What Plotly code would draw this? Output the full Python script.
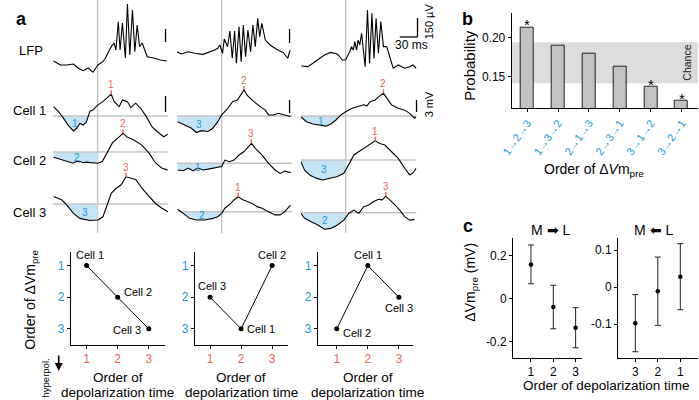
import numpy as np
import plotly.graph_objects as go

W, H = 699, 400
FONT = "Arial, Liberation Sans, Helvetica, sans-serif"
BLUE = "#1e9bd7"
RED = "#f26659"
FILLC = "#c4e3f5"
GREY = "#c4c4c4"

# ---------------- data: panel a (time in ms relative to the grey line) ----------------
c1_lfp_t = [-74.5, -63, -52, -41, -33, -24.5, -16, -8, 0.5, 5, 9, 13, 17, 23, 28, 31, 35, 38, 42, 47, 50.5,
            54.5, 59, 63, 67, 71, 75.5, 84, 95, 106, 117]
c1_lfp_uv = [11, -32, -32, -21, -64, -93, -64, -110, -32, -10, 3, 40, 96, 164, 203, 128, 431, 128, 417, 43, 620,
             75, 556, 110, 396, 164, 203, 57, 43, 21, 11]
c2_lfp_t = [-76, -68, -57, -45.5, -31.5, -20.5, -12, -6.5, -3, 1.5, 4.5, 10, 14, 18, 22, 25, 29.5, 33, 36.7,
            40.5, 44.5, 49, 53, 57, 61, 64.5, 68, 74, 82, 93, 104.5, 112, 116]
c2_lfp_uv = [3, -21, 3, -14, -25, -3, 21, 40, 75, -14, 139, 57, 225, -67, 225, -121, 271, -104, 289,
             -50, 235, 3, 289, 57, 360, 164, 307, 128, 75, 29, -7, -67, 21]
c3_lfp_t = [-75, -64, -55.5, -47, -36, -25, -14, -5.5, 0, 4, 7, 10, 13, 15.5, 18.5, 21, 24, 27, 29.5, 33,
            37, 40.5, 44.5, 48, 51.5, 55.5, 59.5, 64, 69.5, 75, 80.5, 89, 100, 108.5, 114, 119.5]
c3_lfp_uv = [-43, -50, -14, 29, 75, 103, 86, 21, 21, 75, 110, 164, 128, 218, 128, 235, 182, 307, 128, -50,
             556, -14, 520, 39, 467, 93, 432, 164, 164, 57, -67, -32, -67, -50, -32, -67]

c1_cell1_t = [-74.5, -66, -58, -50, -41, -35.5, -30, -24.5, -19, -13, -8, 0.5, 9, 17, 23, 28, 36.5, 42, 50.5,
              56, 64.5, 73, 84, 92, 100.5, 112, 119]
c1_cell1_mv = [1.75, 0.8, -0.4, -1.7, -2.8, -2.3, -1.4, -1.7, -1.1, 0.9, 1.1, 2.1, 2.7, 3.4, 4.1, 2.7, 1.75,
               3.0, 2.7, 1.55, 2.4, 1.45, -0.4, -2.0, -2.9, -3.9, -3.4]
c1_cell2_t = [-74.5, -66, -58, -50, -45, -41.5, -36, -30, -24, -18, -13, -5, 0.5, 8, 16.5, 25, 37, 43, 50,
              61.5, 75, 87, 98.5, 108.5, 118.5]
c1_cell2_mv = [-1.0, -1.3, -1.6, -1.9, -2.0, -2.1, -1.8, -1.8, -2.0, -1.9, -2.0, -2.1, -2.1, -1.8, 0.0, 1.7,
               2.9, 3.5, 2.8, 2.25, 1.3, -0.2, -2.1, -3.0, -3.4]
c1_cell3_t = [-74.5, -60.5, -52, -41, -30, -13, 0.5, 9, 17, 23, 31, 40, 48, 56, 64.5, 75.5, 87, 98, 109, 119]
c1_cell3_mv = [1.4, 0.75, -0.2, -1.75, -2.7, -3.1, -3.0, -2.4, 0.1, 2.0, 2.9, 3.6, 5.1, 4.8, 4.6, 2.9, 1.4,
               0.1, -0.8, -1.45]

c2_cell1_t = [-74.5, -62, -51, -43, -34, -23, -15, -6.5, 0, 10, 18.5, 26.7, 32, 38, 43, 54.5, 65.5, 74, 79.5,
              88, 96, 104.5, 116.7]
c2_cell1_mv = [-1.07, -1.7, -2.3, -3.1, -2.75, -2.9, -2.3, -1.07, 0.2, 1.4, 2.7, 3.0, 3.9, 4.9, 3.9, 2.7, 1.75,
               1.1, 0.2, 0.2, 0.5, 0.2, -0.1]
c2_cell2_t = [-74.5, -65, -56.5, -48.5, -40, -31.5, -23, -12, 0, 5.5, 13, 21, 29.5, 38, 43.5, 50.5, 57, 68.5,
              79.5, 90.5, 99, 107, 116.7]
c2_cell2_mv = [-1.25, -1.4, -0.9, -1.4, -0.9, -1.25, -1.1, -0.9, -0.6, 0.6, 0.3, 0.6, 1.55, 2.2, 2.8, 3.75, 2.8,
               1.55, 0.0, -1.25, -1.9, -1.45, -1.75]
c2_cell3_t = [-74.5, -65, -54, -43, -29, -15, -6.5, 0, 5.5, 15.5, 21, 28, 35, 43.5, 51.5, 60, 68.5, 79.5, 90.5,
              99, 107, 116.7]
c2_cell3_mv = [0.45, -0.3, -1.25, -1.55, -1.55, -1.25, -0.95, -0.3, 0.65, 1.55, 2.2, 2.8, 2.3, 1.9, 1.55, 0.95,
               0.65, 0.0, -0.6, -0.6, 0.0, 1.25]

c3_cell1_t = [-76, -66.5, -55.5, -44.5, -33, -25, -16.5, -8, 0, 11, 22, 30.5, 36, 41.5, 50, 55.5, 64, 69.5, 78,
              89, 100, 108.5, 116.7, 119.5]
c3_cell1_mv = [-0.1, -1.07, -1.5, -1.7, -1.9, -1.5, -0.75, 0.2, 0.8, 1.45, 1.9, 2.1, 1.9, 2.7, 3.0, 3.6, 4.25,
               3.3, 2.06, 1.45, 1.1, 0.5, -0.4, -0.1]
c3_cell2_t = [-76, -69.5, -61, -50, -39, -28, -14, -3, 3, 8.3, 14, 22, 33, 44.5, 50, 58, 66.5, 77.8, 89, 100,
              108.5, 114, 119.5]
c3_cell2_mv = [-0.3, -1.9, -2.8, -3.4, -3.75, -3.4, -3.1, -2.5, -1.25, 0.0, 0.95, 1.55, 2.3, 3.1, 3.6, 3.1, 2.8,
               1.55, 0.3, -1.55, -2.8, -2.4, -1.55]
c3_cell3_t = [-76, -69.5, -58.5, -47, -36, -25, -14, -3, 5.5, 14, 22, 30.5, 39, 47, 55.5, 62, 68, 75, 83.5,
              91.5, 100, 108.5, 116.7]
c3_cell3_mv = [-0.1, -1.05, -1.7, -2.3, -3.1, -2.95, -2.3, -1.4, -0.1, 0.5, -0.1, 1.1, 1.45, 2.06, 2.5, 2.4,
               3.1, 2.4, 1.45, 0.5, -0.75, -1.4, -1.25]

# order of depolarization (red) and of pre-event hyperpolarization (blue) for cells 1-3
depol_order = [[1, 2, 3], [2, 3, 1], [2, 1, 3]]
hyper_order = [[1, 2, 3], [3, 1, 2], [1, 3, 2]]

# ---------------- data: panel b ----------------
b_orders = ["1→2→3", "1→3→2", "2→1→3", "2→3→1", "3→1→2", "3→2→1"]
b_prob = [0.2127, 0.1898, 0.1792, 0.1627, 0.1369, 0.1192]
b_signif = [True, False, False, False, True, True]
b_chance = [0.1416, 0.1937]

# ---------------- data: panel c ----------------
c1_x = [1, 2, 3]
c1_mean = [0.160, -0.038, -0.134]
c1_err = [0.090, 0.101, 0.093]
c2_x = [3, 2, 1]
c2_mean = [-0.097, -0.011, 0.028]
c2_err = [0.077, 0.092, 0.089]

# ---------------- helpers ----------------
def xd(a, b):
    return [a / W, b / W]

def yd(top, bot):
    return [1 - bot / H, 1 - top / H]

def PX(x):
    return x / W

def PY(y):
    return 1 - y / H

def names(n):
    return ("xaxis" if n == 1 else f"xaxis{n}", "x" if n == 1 else f"x{n}",
            "yaxis" if n == 1 else f"yaxis{n}", "y" if n == 1 else f"y{n}")

fig = go.Figure()
layout = {}
shapes = []
ann = []

def txt(x, y, s, size=13, color="black", angle=0, xanchor="center", yanchor="middle", xref="paper",
        yref="paper", **kw):
    d = dict(x=x, y=y, text=s, showarrow=False, xref=xref, yref=yref, xanchor=xanchor, yanchor=yanchor,
             textangle=angle, font=dict(family=FONT, size=size, color=color))
    d.update(kw)
    ann.append(d)

hidden = dict(visible=False, showgrid=False, zeroline=False, fixedrange=True)

# ---------------- panel a ----------------
T0, T1 = -76, 120
col_line_px = [88, 214, 340]
row_band = [(0, 76), (84, 146), (122, 188), (165, 236)]
row_k = [0.0935, 5.33, 5.33, 5.33]   # px per unit (uV or mV)
baseline_px = [[62, 116, 152, 204], [52, 116, 163.3, 211.7], [62, 116, 160, 212.7]]

traces_a = [
    [(c1_lfp_t, c1_lfp_uv), (c1_cell1_t, c1_cell1_mv), (c1_cell2_t, c1_cell2_mv), (c1_cell3_t, c1_cell3_mv)],
    [(c2_lfp_t, c2_lfp_uv), (c2_cell1_t, c2_cell1_mv), (c2_cell2_t, c2_cell2_mv), (c2_cell3_t, c2_cell3_mv)],
    [(c3_lfp_t, c3_lfp_uv), (c3_cell1_t, c3_cell1_mv), (c3_cell2_t, c3_cell2_mv), (c3_cell3_t, c3_cell3_mv)],
]

for c in range(3):
    xl = col_line_px[c]
    xn = c + 1
    xkey, xref, _, _ = names(xn)
    layout[xkey] = dict(domain=xd(xl + T0 * 0.6, xl + T1 * 0.6), range=[T0, T1], anchor=f"y{c*4+4}", **hidden)
    shapes.append(dict(type="line", xref=xref, yref="paper", x0=0, x1=0, y0=PY(233), y1=1,
                       line=dict(color=GREY, width=1.4), layer="below"))
    for r in range(4):
        yn = c * 4 + r + 1
        _, _, ykey, yref = names(yn)
        top, bot = row_band[r]
        base = baseline_px[c][r]
        k = row_k[r]
        layout[ykey] = dict(domain=yd(top, bot), range=[-(bot - base) / k, (base - top) / k], anchor=xref,
                            **hidden)
        t, v = traces_a[c][r]
        t = np.array(t, float)
        v = np.array(v, float)
        if r > 0:
            tg = np.arange(t[0], 0.0001, 0.25)
            yf = np.minimum(np.interp(tg, t, v), 0)
            fig.add_trace(go.Scatter(x=tg, y=yf, xaxis=xref, yaxis=yref, mode="lines", fill="tozeroy",
                                     fillcolor=FILLC, line=dict(width=0), hoverinfo="skip", showlegend=False))
            fig.add_trace(go.Scatter(x=[T0, T1], y=[0, 0], xaxis=xref, yaxis=yref, mode="lines",
                                     line=dict(color=GREY, width=1.4), hoverinfo="skip", showlegend=False))
        fig.add_trace(go.Scatter(x=t, y=v, xaxis=xref, yaxis=yref, mode="lines",
                                 line=dict(color="black", width=1.1), hoverinfo="skip", showlegend=False))
        if r > 0:
            i = int(np.argmax(v))
            shapes.append(dict(type="line", xref=xref, yref=yref, x0=t[i], x1=t[i], y0=v[i], y1=v[i] + 0.75,
                               line=dict(color=RED, width=1.5)))
            txt(t[i], v[i] + 0.75, str(depol_order[c][r - 1]), size=10, color=RED, yanchor="bottom",
                xref=xref, yref=yref, yshift=-2)
            depth = -yf
            tc = float(np.sum(tg * depth) / np.sum(depth))
            txt(tc, 0.5 * float(yf.min()), str(hyper_order[c][r - 1]), size=10, color=BLUE, xref=xref, yref=yref)

# scale bars (pixel layout)
bars = [((157, 29), (157, 42)), ((157, 96), (157, 112)), ((283, 29), (283, 43)), ((283, 100), (283, 113)),
        ((413, 18), (413, 37)), ((395, 37), (413, 37)), ((412, 100), (412, 112))]
for (x0, y0), (x1, y1) in bars:
    shapes.append(dict(type="line", xref="paper", yref="paper", x0=PX(x0), x1=PX(x1), y0=PY(y0), y1=PY(y1),
                       line=dict(color="black", width=1.3)))
txt(PX(407), PY(45), "30 ms", size=12)
txt(PX(425), PY(21), "150 µV", size=11, angle=-90)
txt(PX(425), PY(104), "3 mV", size=11, angle=-90)

txt(PX(3), PY(19), "<b>a</b>", size=18, xanchor="left")
txt(PX(6), PY(50), "LFP", size=13, xanchor="left")
for lab, yy in [("Cell 1", 110), ("Cell 2", 160), ("Cell 3", 212)]:
    txt(PX(0), PY(yy), lab, size=13, xanchor="left")

# ---------------- bottom order plots ----------------
sc_xdom = [(60.7, 156.7), (186.7, 281.7), (311.7, 408.3)]
sc_xrange = [[0.49, 3.53], [0.506, 3.52], [0.39, 3.45]]
label_place = [
    [dict(xanchor="center", yanchor="bottom", xshift=3, yshift=3),
     dict(xanchor="left", yanchor="middle", xshift=4, yshift=5),
     dict(xanchor="right", yanchor="middle", xshift=-6, yshift=-1)],
    [dict(xanchor="left", yanchor="middle", xshift=4, yshift=0),
     dict(xanchor="center", yanchor="bottom", xshift=0, yshift=3),
     dict(xanchor="center", yanchor="bottom", xshift=2, yshift=3)],
    [dict(xanchor="center", yanchor="bottom", xshift=0, yshift=3),
     dict(xanchor="left", yanchor="middle", xshift=4, yshift=-4),
     dict(xanchor="center", yanchor="top", xshift=0, yshift=-3)],
]
axis_style = dict(showline=True, linecolor="black", linewidth=1, ticks="outside", ticklen=3, tickcolor="black",
                  showgrid=False, zeroline=False, fixedrange=True)
for c in range(3):
    n = 13 + c
    xn = 10 + c
    xkey, xref, _, _ = names(xn)
    _, _, ykey, yref = names(n)
    layout[xkey] = dict(domain=xd(*sc_xdom[c]), range=sc_xrange[c], anchor=yref, tickvals=[1, 2, 3],
                        ticktext=["1", "2", "3"], tickfont=dict(family=FONT, size=12, color=RED), **axis_style)
    layout[ykey] = dict(domain=yd(251.7, 345), range=[3.51, 0.56], anchor=xref, tickvals=[1, 2, 3],
                        ticktext=["1", "2", "3"], tickfont=dict(family=FONT, size=12, color=BLUE), **axis_style)
    pts = sorted(zip(depol_order[c], hyper_order[c], [1, 2, 3]))
    xs = [p[0] for p in pts]
    ys = [p[1] for p in pts]
    fig.add_trace(go.Scatter(x=xs, y=ys, xaxis=xref, yaxis=yref, mode="lines+markers",
                             line=dict(color="black", width=1), marker=dict(color="black", size=5),
                             hoverinfo="skip", showlegend=False))
    for cell in range(3):
        pl = label_place[c][cell]
        txt(depol_order[c][cell], hyper_order[c][cell], f"Cell {cell+1}", size=11, xref=xref, yref=yref,
            **pl)
    txt(2, PY(377), "Order of", size=13.5, xref=xref)
    txt(2, PY(392), "depolarization time", size=13.5, xref=xref)

txt(PX(20), PY(300), "Order of ΔVm<sub>pre</sub>", size=14, angle=-90)
txt(PX(35), PY(378), "hyperpol.", size=9.5, angle=-90)
ann.append(dict(x=PX(48.5), y=PY(371), ax=0, ay=-17, xref="paper", yref="paper", text="", showarrow=True,
                arrowhead=2, arrowsize=1, arrowwidth=1.6, arrowcolor="black"))

# ---------------- panel b ----------------
xkey, xref, _, _ = names(16)
_, _, ykey, yref = names(16)
layout[xkey] = dict(domain=xd(508.7, 698), range=[-0.5, 5.53], anchor=yref, tickvals=list(range(6)),
                    ticktext=b_orders, tickangle=-55, tickfont=dict(family=FONT, size=11, color=BLUE),
                    **axis_style)
layout[ykey] = dict(domain=yd(12.7, 108.3), range=[0.11, 0.2312], anchor=xref, tickvals=[0.15, 0.20],
                    ticktext=["0.15", "0.20"], tickfont=dict(family=FONT, size=12, color="black"), **axis_style)
shapes.append(dict(type="rect", xref=f"{xref} domain", yref=yref, x0=0, x1=1, y0=b_chance[0], y1=b_chance[1],
                   fillcolor="#dcdcdc", line=dict(width=0), layer="below"))
fig.add_trace(go.Bar(x=list(range(6)), y=b_prob, xaxis=xref, yaxis=yref, width=0.42,
                     marker=dict(color="#c2c2c2", line=dict(color="#222", width=1)), hoverinfo="skip",
                     showlegend=False))
for i, s in enumerate(b_signif):
    if s:
        txt(i, b_prob[i], "*", size=15, xref=xref, yref=yref, yanchor="bottom", yshift=-8)
txt(PX(686.5), PY(63), "Chance", size=10.5, angle=-90, color="#222")
txt(PX(464), PY(19), "<b>b</b>", size=18)
txt(PX(466), PY(65), "Probability", size=15, angle=-90)
txt(PX(592), PY(170), "Order of Δ<i>V</i>m<sub>pre</sub>", size=14)

# ---------------- panel c ----------------
for j, (xs, ms, es, xdom, xr, yr, tv, tt, title, tx) in enumerate([
        (c1_x, c1_mean, c1_err, (510, 580), [0.194, 3.28], [-0.273, 0.281], [-0.2, 0, 0.2],
         ["-0.2", "0", "0.2"], "M ➡ L", 548),
        (c2_x, c2_mean, c2_err, (616.7, 698.3), [3.77, 0.2], [-0.19, 0.1315], [-0.1, 0, 0.1],
         ["-0.1", "0", "0.1"], "M ⬅ L", 653)]):
    n = 17 + j
    xkey, xref, _, _ = names(n)
    _, _, ykey, yref = names(n)
    layout[xkey] = dict(domain=xd(*xdom), range=xr, anchor=yref, tickvals=[1, 2, 3], ticktext=["1", "2", "3"],
                        tickfont=dict(family=FONT, size=12, color="black"), **axis_style)
    layout[ykey] = dict(domain=yd(238.3, 357.7), range=yr, anchor=xref, tickvals=tv, ticktext=tt,
                        tickfont=dict(family=FONT, size=12, color="black"), **axis_style)
    fig.add_trace(go.Scatter(x=xs, y=ms, xaxis=xref, yaxis=yref, mode="markers",
                             marker=dict(color="black", size=4.5),
                             error_y=dict(type="data", array=es, visible=True, color="#222", thickness=1,
                                          width=3),
                             hoverinfo="skip", showlegend=False))
    txt(PX(tx), PY(230), title, size=14)
txt(PX(464), PY(226), "<b>c</b>", size=18)
txt(PX(467), PY(282), "ΔVm<sub>pre</sub> (mV)", size=14, angle=-90)
txt(PX(605), PY(385), "Order of depolarization time", size=13.5)

fig.update_layout(width=W, height=H, margin=dict(l=0, r=0, t=0, b=0), plot_bgcolor="rgba(0,0,0,0)",
                  paper_bgcolor="white", showlegend=False, shapes=shapes, annotations=ann,
                  font=dict(family=FONT, size=12, color="black"), bargap=0, **layout)
fig.write_html("out.html", config={"displayModeBar": False},
               post_script="document.body.style.margin='0';document.body.style.overflow='hidden';")
